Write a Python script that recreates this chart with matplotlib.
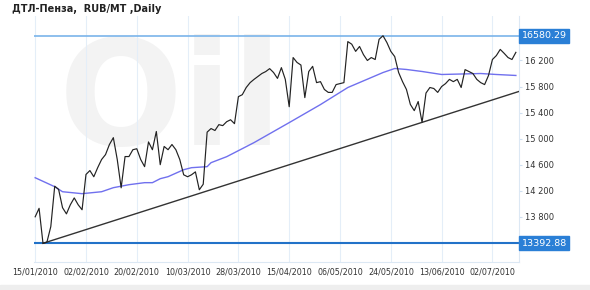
import matplotlib
matplotlib.use("Agg")
import matplotlib.pyplot as plt

# trading-day index based axis, labels every 13 points
tick_labels = ["15/01/2010", "02/02/2010", "20/02/2010", "10/03/2010", "28/03/2010",
               "15/04/2010", "06/05/2010", "24/05/2010", "13/06/2010", "02/07/2010"]
tick_step = 13

price = [13800, 13930, 13393, 13410, 13650, 14270, 14220, 13940, 13845, 13985,
         14090, 13985, 13908, 14450, 14510, 14415, 14555, 14680, 14755, 14910,
         15015, 14680, 14245, 14725, 14725, 14830, 14845, 14680, 14570, 14950,
         14830, 15110, 14600, 14880, 14830, 14910, 14830, 14680, 14445, 14415,
         14445, 14490, 14215, 14300, 15100, 15155, 15125, 15215, 15200, 15260,
         15290, 15230, 15645, 15675, 15785, 15860, 15910, 15955, 16000, 16030,
         16075, 16015, 15925, 16090, 15910, 15490, 16245, 16170, 16130, 15630,
         16030, 16110, 15860, 15875, 15755, 15710, 15710, 15830, 15845, 15860,
         16490, 16450, 16340, 16415, 16290, 16200, 16245, 16215, 16525, 16580,
         16475, 16340, 16260, 16015, 15875, 15755, 15525, 15430, 15570, 15250,
         15700, 15785, 15770, 15710, 15800, 15845, 15910, 15875, 15910, 15785,
         16060, 16030, 16000, 15910, 15860, 15830, 15970, 16215, 16275, 16370,
         16310, 16245, 16215, 16325]

ma_idx = [0, 5, 7, 12, 17, 20, 24, 28, 30, 32, 34, 38, 40, 44, 45, 49, 56, 65,
          73, 80, 89, 92, 95, 99, 104, 114, 118, 123]
ma_val = [14400, 14262, 14185, 14155, 14185, 14247, 14293, 14324, 14324, 14385,
          14416, 14523, 14554, 14570, 14631, 14723, 14939, 15246, 15523, 15785,
          16015, 16077, 16062, 16031, 15985, 16000, 15985, 15970]

trend_idx = [2, 99]
trend_val = [13392.88, 15250]

level_hi = 16580.29
level_lo = 13392.88
yticks = [13800, 14200, 14600, 15000, 15400, 15800, 16200]

fig = plt.figure(figsize=(5.9, 2.9), dpi=100)
ax = fig.add_axes([34 / 590, 1 - 262 / 290, (519 - 34) / 590, (262 - 16) / 290])
ax.set_xlim(-0.3, 123.8)
ax.set_ylim(13106, 16883)

# faint watermark
ax.text(0.05, 0.64, "Oil", transform=ax.transAxes, fontsize=105, fontweight="bold",
        color="#f3f3f3", zorder=0, va="center")

xt = [i * tick_step for i in range(len(tick_labels))]
for x in xt:
    ax.axvline(x, color="#e4eef8", lw=0.8, zorder=1)

ax.axhline(level_hi, color="#7ab4ea", lw=1.2, zorder=2)
ax.axhline(level_lo, color="#2272c8", lw=1.5, zorder=2)

slope = (trend_val[1] - trend_val[0]) / (trend_idx[1] - trend_idx[0])
x_end = ax.get_xlim()[1]
ax.plot([trend_idx[0], x_end], [trend_val[0], trend_val[0] + slope * (x_end - trend_idx[0])],
        color="#333333", lw=1.0, zorder=3)
ax.plot(ma_idx, ma_val, color="#7070ee", lw=1.0, zorder=3)
ax.plot(range(len(price)), price, color="#222222", lw=0.85, zorder=4)

ax.set_xticks(xt)
ax.set_xticklabels(tick_labels, fontsize=5.8, color="#333333")
ax.yaxis.tick_right()
ax.set_yticks(yticks)
ax.set_yticklabels([f"{v:,}".replace(",", " ") for v in yticks],
                   fontsize=6, color="#333333")
ax.tick_params(axis="x", length=0, pad=4)
ax.tick_params(axis="y", length=2, color="#cfdff0", pad=2)
for s in ["top", "left"]:
    ax.spines[s].set_visible(False)
for s in ["right", "bottom"]:
    ax.spines[s].set_color("#dce8f4")
    ax.spines[s].set_linewidth(0.8)

for v in [level_hi, level_lo]:
    ax.annotate(f"{v:.2f}", xy=(1.0, v), xycoords=("axes fraction", "data"),
                xytext=(2, 0), textcoords="offset points", va="center", ha="left",
                fontsize=6.8, color="white",
                bbox=dict(boxstyle="square,pad=0.25", fc="#2a7fd6", ec="#2a7fd6"),
                annotation_clip=False, zorder=6)

fig.text(12 / 590, 1 - 9 / 290, "ДТЛ-Пенза,  RUB/MT ,Daily", fontsize=7,
         fontweight="bold", color="#222222", va="center")
fig.patches.append(plt.Rectangle((0, 0), 1, 5 / 290, transform=fig.transFigure,
                                 color="#eeeeee", zorder=0))

fig.savefig("out.png", dpi=100)
